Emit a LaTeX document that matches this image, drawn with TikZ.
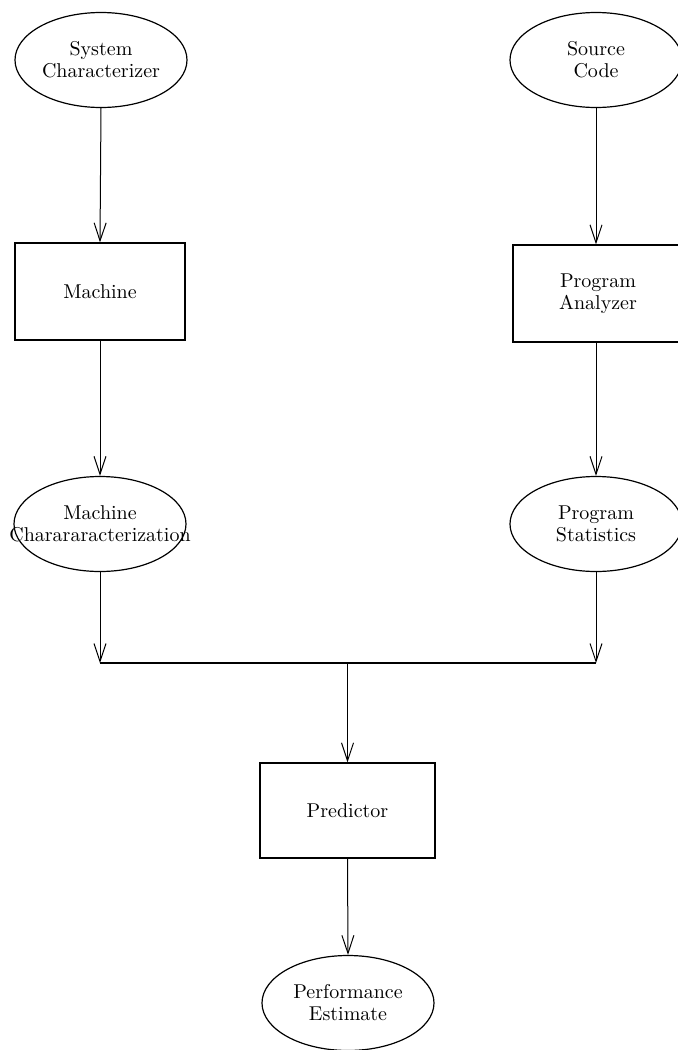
\documentclass[tikz,border=0pt]{standalone}
\usetikzlibrary{shapes.geometric,arrows.meta}
\begin{document}
\begin{tikzpicture}[x=0.5pt,y=-0.5pt,
  every node/.style={font=\fontsize{10}{11}\selectfont, align=center, inner sep=0pt, line width=0.6pt},
  oval/.style={draw, ellipse, minimum width=86pt, minimum height=47.5pt},
  boxnode/.style={draw, rectangle, minimum width=85pt, minimum height=48.5pt},
  flow/.style={line width=0.5pt, -{Straight Barb[length=9pt,width=6pt]}}]
\useasboundingbox (0,0) rectangle (677,1050);
\node[oval] (sc) at (101,60) {System\\Characterizer};
\node[oval] (src) at (596,60) {Source\\Code};
\node[boxnode] (mach) at (100,291.5) {Machine};
\node[boxnode] (pa) at (598,293.5) {Program\\Analyzer};
\node[oval] (mc) at (100,524) {Machine\\\makebox[60pt]{Charararacterization}};
\node[oval] (ps) at (596,524) {Program\\Statistics};
\node[boxnode, minimum width=87.5pt, minimum height=47.5pt] (pred) at (347.5,810.5) {Predictor};
\node[oval] (pe) at (348,1003) {Performance\\Estimate};
\coordinate (jl) at (100,663);
\coordinate (jr) at (596,663);
\coordinate (jm) at (347.5,663);
\draw[flow] (sc.south) -- (mach.north);
\draw[flow] (src.south) -- (src.south |- pa.north);
\draw[flow] (mach.south) -- (mc.north);
\draw[flow] (pa.south -| ps.north) -- (ps.north);
\draw[flow] (mc.south) -- (jl);
\draw[flow] (ps.south) -- (jr);
\draw[line width=0.6pt] (jl) -- (jr);
\draw[flow] (jm) -- (pred.north);
\draw[flow] (pred.south) -- (pe.north);
\end{tikzpicture}
\end{document}
